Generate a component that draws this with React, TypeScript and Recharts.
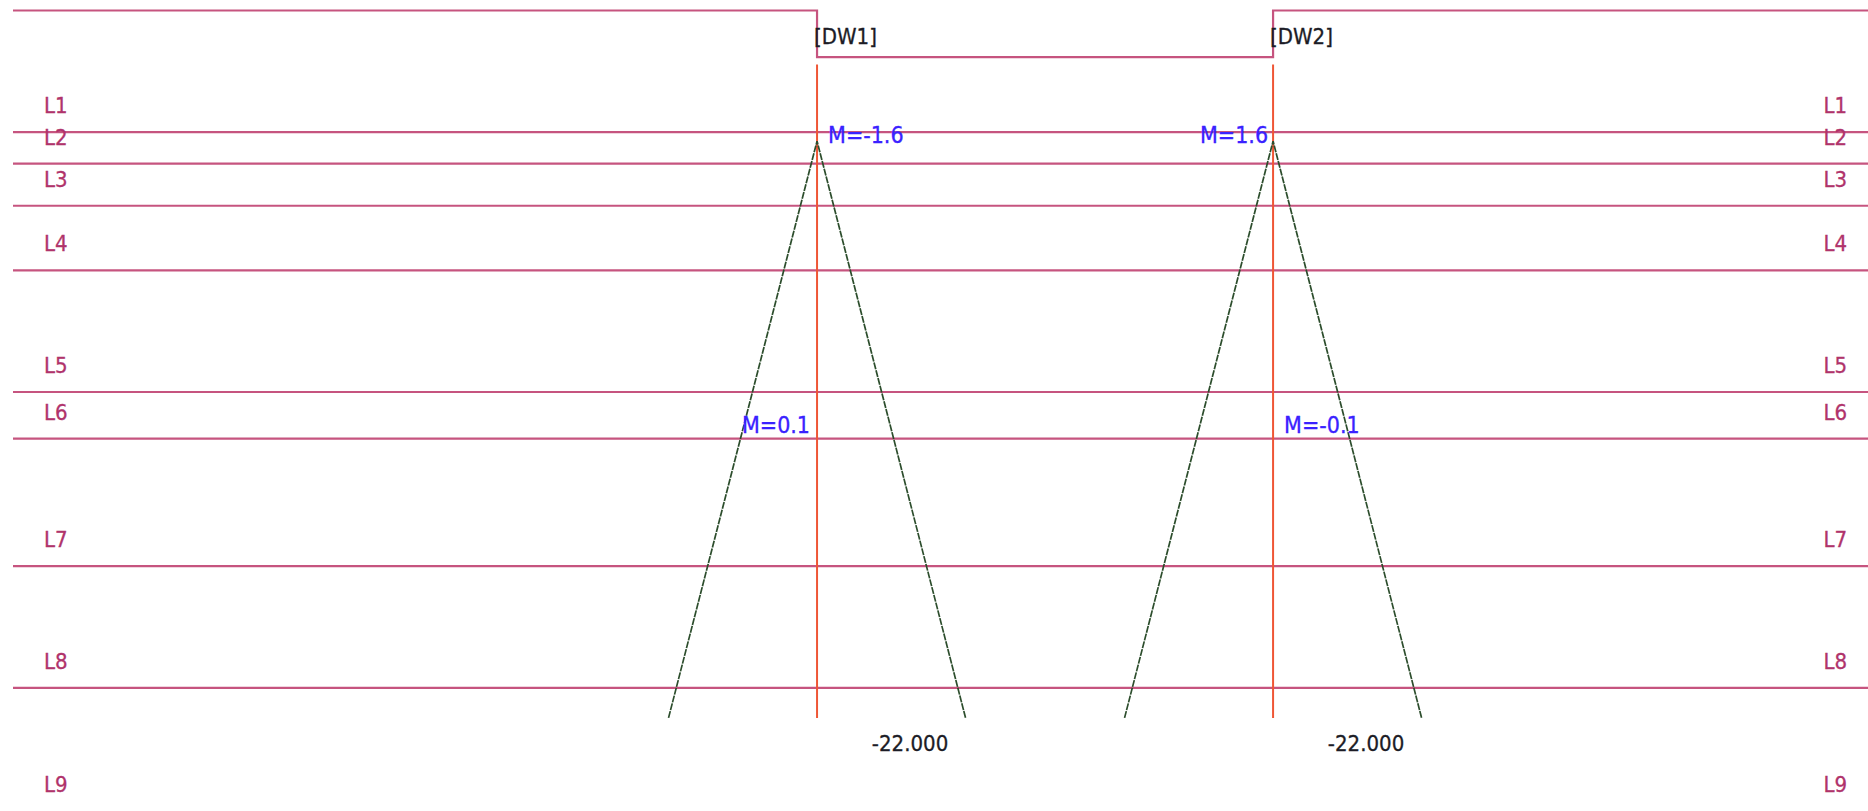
import React from 'react';
import { ComposedChart, Line, XAxis, YAxis, ReferenceLine, ReferenceDot } from 'recharts';

const WIDTH = 1868;
const HEIGHT = 811;

// horizontal distance (m) and elevation (m)
const X_RANGE = [0, 61.83];
const Y_RANGE = [-25.1, 1.9];

const layerNames = ['L1', 'L2', 'L3', 'L4', 'L5', 'L6', 'L7', 'L8', 'L9'];
const layerBottoms = [-2.5, -3.55, -4.95, -7.1, -11.15, -12.7, -16.95, -21.0, -25.1];

const groundLevel = 1.55;
const excavationLevel = 0.0;

const wallNames = ['[DW1]', '[DW2]'];
const wallX = [26.8, 42.0];
const wallTop = -0.25;
const wallToe = -22.0;
const toeLabels = ['-22.000', '-22.000'];

const momentTopLevel = -2.8;
const momentTopLabels = ['M=-1.6', 'M=1.6'];
const momentMidLevel = -12.5;
const momentMidLabels = ['M=0.1', 'M=-0.1'];
const diagramHalfWidth = [4.95, 4.95];

const FONT = "'DejaVu Sans Condensed', 'DejaVu Sans', sans-serif";
const LAYER_LINE = '#c6547f';
const LAYER_TEXT = '#b0336b';
const WALL = '#ef5636';
const DIAGRAM = '#2c4d2c';
const MOMENT_TEXT = '#3a22ff';
const DARK_TEXT = '#1c1c26';

const groundProfile = [
  { x: X_RANGE[0], y: groundLevel },
  { x: wallX[0], y: groundLevel },
  { x: wallX[0], y: excavationLevel },
  { x: wallX[1], y: excavationLevel },
  { x: wallX[1], y: groundLevel },
  { x: X_RANGE[1], y: groundLevel },
];

const textStyle = (color: string, size = 22) => ({
  fontFamily: FONT,
  fontSize: size,
  fill: color,
  stroke: color,
  strokeWidth: 0.3,
  fontStretch: 'condensed' as const,
});

const LayerLabel = (props: any) => {
  const { viewBox, text } = props;
  if (!viewBox) return null;
  const { x, y, width } = viewBox;
  const style = textStyle(LAYER_TEXT);
  return (
    <g>
      <text x={x + 31} y={y - 19} style={style}>{text}</text>
      <text x={x + width - 21} y={y - 19} textAnchor="end" style={style}>{text}</text>
    </g>
  );
};

const textShape = (text: string, dx: number, dy: number, anchor: string, color: string, size = 22) => (p: any) => (
  <text x={p.cx + dx} y={p.cy + dy} textAnchor={anchor} style={textStyle(color, size)}>
    {text}
  </text>
);

const App: React.FC = () => {
  return (
    <div style={{ position: 'absolute', left: 0, top: 0, background: '#fff' }}>
      <ComposedChart width={WIDTH} height={HEIGHT} margin={{ top: 0, right: 0, bottom: 0, left: 13 }}>
        <XAxis type="number" dataKey="x" domain={X_RANGE} allowDataOverflow hide />
        <YAxis type="number" dataKey="y" domain={Y_RANGE} allowDataOverflow hide />

        {layerNames.map((name, i) => (
          <ReferenceLine
            key={name}
            y={layerBottoms[i]}
            stroke={i < layerNames.length - 1 ? LAYER_LINE : 'none'}
            strokeWidth={2.2}
            ifOverflow="visible"
            label={<LayerLabel text={name} />}
          />
        ))}

        <Line data={groundProfile} dataKey="y" type="linear" stroke={LAYER_LINE} strokeWidth={2.2}
          dot={false} activeDot={false} isAnimationActive={false} />

        {wallX.map((wx, i) => (
          <Line key={`wall-${i}`} data={[{ x: wx, y: wallTop }, { x: wx, y: wallToe }]} dataKey="y" type="linear"
            stroke={WALL} strokeWidth={2} dot={false} activeDot={false} isAnimationActive={false} />
        ))}

        {wallX.map((wx, i) => (
          <Line key={`moment-${i}`}
            data={[
              { x: wx - diagramHalfWidth[i], y: wallToe },
              { x: wx, y: momentTopLevel },
              { x: wx + diagramHalfWidth[i], y: wallToe },
            ]}
            dataKey="y" type="linear" stroke={DIAGRAM} strokeWidth={1.7} strokeDasharray="7 1"
            dot={false} activeDot={false} isAnimationActive={false} />
        ))}

        {wallX.map((wx, i) => (
          <ReferenceDot key={`name-${i}`} x={wx} y={excavationLevel} r={0} ifOverflow="visible"
            shape={textShape(wallNames[i], -3, -13, 'start', DARK_TEXT)} />
        ))}
        {wallX.map((wx, i) => (
          <ReferenceDot key={`toe-${i}`} x={wx} y={wallToe} r={0} ifOverflow="visible"
            shape={textShape(toeLabels[i], 93, 33, 'middle', DARK_TEXT)} />
        ))}
        {wallX.map((wx, i) => (
          <ReferenceDot key={`mtop-${i}`} x={wx} y={momentTopLevel} r={0} ifOverflow="visible"
            shape={i === 0
              ? textShape(momentTopLabels[i], 11, 2, 'start', MOMENT_TEXT, 23)
              : textShape(momentTopLabels[i], -5, 2, 'end', MOMENT_TEXT, 23)} />
        ))}
        {wallX.map((wx, i) => (
          <ReferenceDot key={`mmid-${i}`} x={wx} y={momentMidLevel} r={0} ifOverflow="visible"
            shape={i === 0
              ? textShape(momentMidLabels[i], -7, 0, 'end', MOMENT_TEXT, 23)
              : textShape(momentMidLabels[i], 11, 0, 'start', MOMENT_TEXT, 23)} />
        ))}
      </ComposedChart>
    </div>
  );
};

export default App;
